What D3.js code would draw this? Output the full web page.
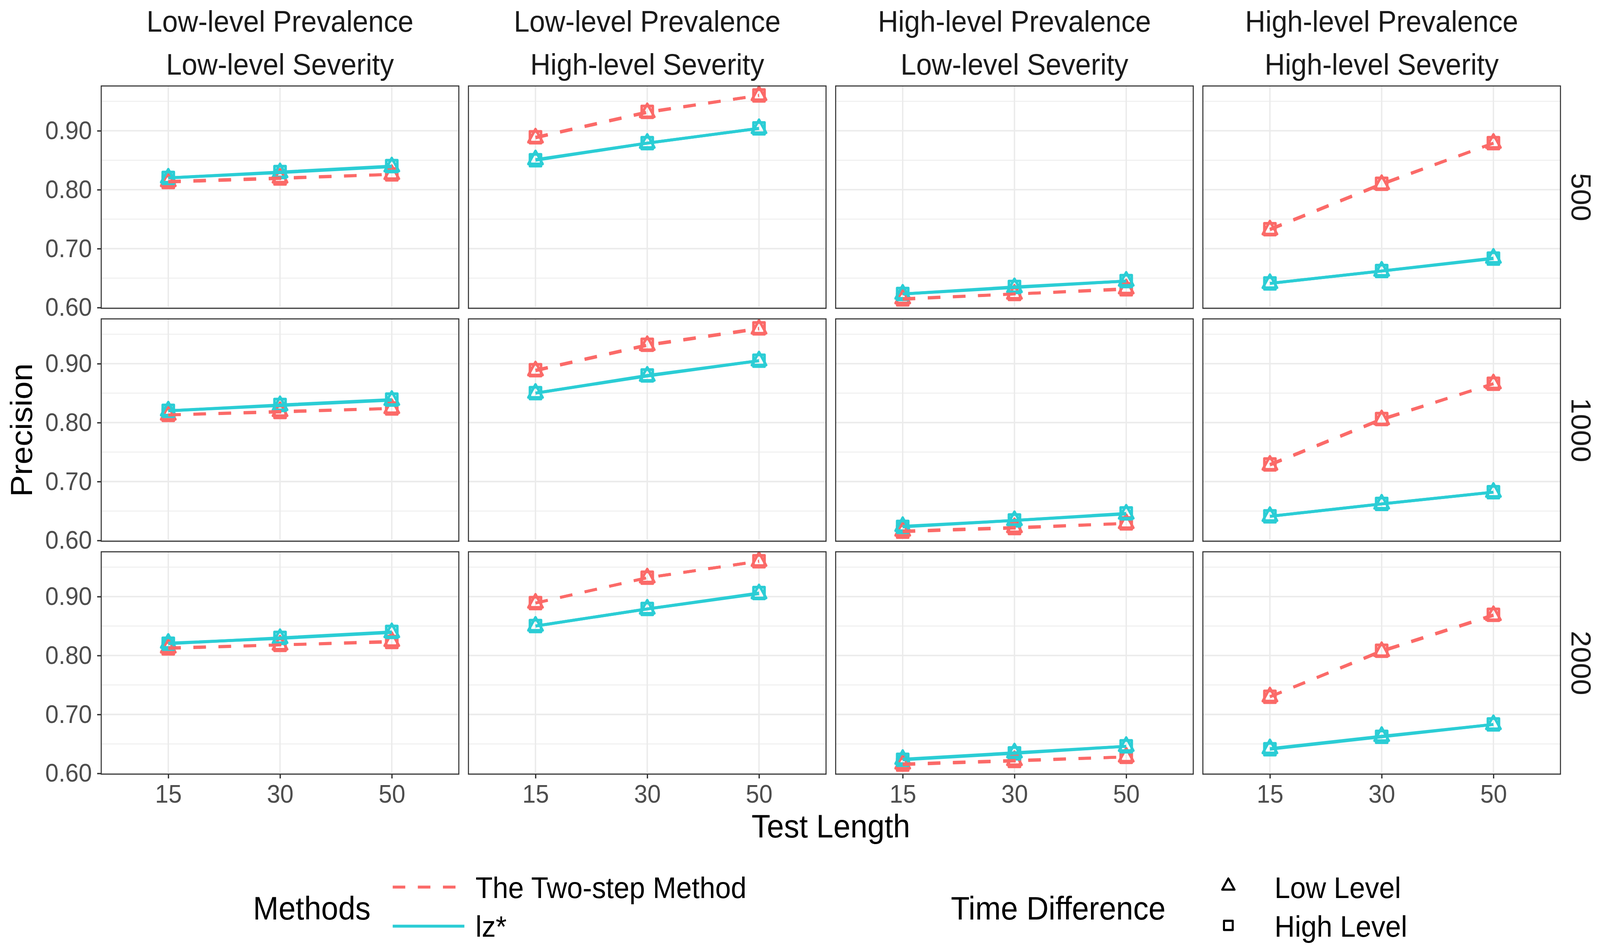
<!DOCTYPE html>
<html>
<head>
<meta charset="utf-8">
<script src="https://cdn.jsdelivr.net/npm/d3@7"></script>
<style>
  html, body { margin: 0; padding: 0; background: #fff; overflow: hidden; }
  svg { display: block; width: 100vw; height: 100vh; }
  text { font-family: "Liberation Sans", Arial, Helvetica, sans-serif; }
</style>
</head>
<body>
<svg id="chart"></svg>
<script>
// facet labels
const conditionTop = ["Low-level Prevalence", "Low-level Prevalence", "High-level Prevalence", "High-level Prevalence"];
const conditionBottom = ["Low-level Severity", "High-level Severity", "Low-level Severity", "High-level Severity"];
const sampleSizes = ["500", "1000", "2000"];
const testLengths = ["15", "30", "50"];
const methods = ["The Two-step Method", "lz*"];
const timeLevels = ["Low Level", "High Level"];
const yTicks = [0.60, 0.70, 0.80, 0.90];
const yMinorTicks = [0.65, 0.75, 0.85, 0.95];

// precision values [sample size row][condition col][test length]
const twoStepLow = [
  [[0.814, 0.820, 0.826], [0.888, 0.931, 0.960], [0.615, 0.623, 0.632], [0.732, 0.809, 0.879]],
  [[0.813, 0.819, 0.824], [0.888, 0.931, 0.959], [0.616, 0.622, 0.629], [0.728, 0.805, 0.866]],
  [[0.813, 0.818, 0.824], [0.889, 0.932, 0.960], [0.616, 0.622, 0.628], [0.730, 0.807, 0.868]]
];
const twoStepHigh = [
  [[0.813, 0.819, 0.826], [0.889, 0.932, 0.960], [0.614, 0.623, 0.631], [0.733, 0.810, 0.879]],
  [[0.813, 0.818, 0.824], [0.889, 0.932, 0.960], [0.615, 0.621, 0.629], [0.729, 0.806, 0.866]],
  [[0.812, 0.818, 0.823], [0.889, 0.932, 0.960], [0.615, 0.621, 0.628], [0.730, 0.808, 0.869]]
];
const lzLow = [
  [[0.820, 0.829, 0.839], [0.851, 0.879, 0.904], [0.623, 0.634, 0.645], [0.641, 0.662, 0.684]],
  [[0.820, 0.829, 0.838], [0.850, 0.879, 0.905], [0.624, 0.634, 0.645], [0.641, 0.662, 0.682]],
  [[0.821, 0.829, 0.839], [0.850, 0.879, 0.905], [0.624, 0.635, 0.646], [0.642, 0.663, 0.683]]
];
const lzHigh = [
  [[0.820, 0.830, 0.840], [0.850, 0.879, 0.904], [0.623, 0.635, 0.645], [0.641, 0.662, 0.683]],
  [[0.820, 0.830, 0.839], [0.850, 0.880, 0.905], [0.623, 0.634, 0.646], [0.641, 0.662, 0.682]],
  [[0.820, 0.830, 0.840], [0.850, 0.879, 0.906], [0.623, 0.634, 0.646], [0.641, 0.662, 0.683]]
];

// drawing is laid out on the reference's 4331x2431 grid and scaled to the window
const width = 4331;
const height = 2431;
const panel = { left: 274, top: 220, w: 968, h: 569, gapX: 26, gapY: 27 };
const colors = ["#FB6A68", "#2BCDD5"];
const dashes = ["34,34", null];
const textDark = "#1A1A1A";
const textGrey = "#4D4D4D";

const svg = d3.select("#chart")
  .attr("viewBox", `0 0 ${width} ${height}`)
  .attr("preserveAspectRatio", "none")
  .style("background", "#fff");

svg.append("rect").attr("width", width).attr("height", height).attr("fill", "#fff");

const x = d3.scalePoint().domain(testLengths).range([0, panel.w]).padding(0.6);
const y = d3.scaleLinear().domain([0.5987, 0.976]).range([panel.h, 0]);

const triangle = d3.symbol().type(d3.symbolTriangle).size(640);
const square = d3.symbol().type(d3.symbolSquare).size(900);
const shapes = [triangle, square];

const line = d3.line()
  .x((d, i) => x(testLengths[i]))
  .y(d => y(d));

const series = [
  { method: 0, time: 0, data: twoStepLow },
  { method: 0, time: 1, data: twoStepHigh },
  { method: 1, time: 0, data: lzLow },
  { method: 1, time: 1, data: lzHigh }
];

sampleSizes.forEach((size, r) => {
  conditionTop.forEach((cond, c) => {
    const px = panel.left + c * (panel.w + panel.gapX);
    const py = panel.top + r * (panel.h + panel.gapY);
    const g = svg.append("g").attr("transform", `translate(${px},${py})`);

    // grid
    g.selectAll(".minor")
      .data(yMinorTicks)
      .enter()
      .append("line")
      .attr("x1", 0).attr("x2", panel.w)
      .attr("y1", d => y(d)).attr("y2", d => y(d))
      .attr("stroke", "#EBEBEB").attr("stroke-width", 2);

    g.selectAll(".major")
      .data(yTicks)
      .enter()
      .append("line")
      .attr("x1", 0).attr("x2", panel.w)
      .attr("y1", d => y(d)).attr("y2", d => y(d))
      .attr("stroke", "#EBEBEB").attr("stroke-width", 3.8);

    g.selectAll(".vmajor")
      .data(testLengths)
      .enter()
      .append("line")
      .attr("x1", d => x(d)).attr("x2", d => x(d))
      .attr("y1", 0).attr("y2", panel.h)
      .attr("stroke", "#EBEBEB").attr("stroke-width", 3.8);

    // points first, lines on top
    series.forEach(s => {
      g.selectAll(null)
        .data(s.data[r][c])
        .enter()
        .append("path")
        .attr("d", shapes[s.time])
        .attr("transform", (d, i) => `translate(${x(testLengths[i])},${y(d)})`)
        .attr("fill", "none")
        .attr("stroke", colors[s.method])
        .attr("stroke-width", 7)
        .attr("stroke-linejoin", "round");
    });

    series.forEach(s => {
      g.append("path")
        .datum(s.data[r][c])
        .attr("d", line)
        .attr("fill", "none")
        .attr("stroke", colors[s.method])
        .attr("stroke-width", 7.5)
        .attr("stroke-dasharray", dashes[s.method]);
    });

    g.append("rect")
      .attr("width", panel.w).attr("height", panel.h)
      .attr("fill", "none")
      .attr("stroke", "#333333")
      .attr("stroke-width", 2.8);

    // left axis only on first column
    if (c === 0) {
      const yAxis = g.append("g")
        .call(d3.axisLeft(y).tickValues(yTicks).tickFormat(d3.format(".2f")).tickSize(11).tickPadding(14));
      yAxis.select(".domain").remove();
      yAxis.selectAll("line").attr("stroke", "#333333").attr("stroke-width", 3.5);
      yAxis.selectAll("text")
        .attr("fill", textGrey)
        .style("font-size", "65px")
        .style("font-family", "Liberation Sans, Arial, sans-serif");
    }

    // bottom axis only on last row
    if (r === sampleSizes.length - 1) {
      const xAxis = g.append("g")
        .attr("transform", `translate(0,${panel.h})`)
        .call(d3.axisBottom(x).tickSize(11).tickPadding(16));
      xAxis.select(".domain").remove();
      xAxis.selectAll("line").attr("stroke", "#333333").attr("stroke-width", 3.5);
      xAxis.selectAll("text")
        .attr("fill", textGrey)
        .attr("dy", "0.71em")
        .style("font-size", "65px")
        .style("font-family", "Liberation Sans, Arial, sans-serif");
    }

    // top strips
    if (r === 0) {
      g.append("text")
        .attr("x", panel.w / 2).attr("y", 81 - panel.top)
        .attr("text-anchor", "middle")
        .attr("fill", textDark)
        .style("font-size", "76px")
        .text(cond);
      g.append("text")
        .attr("x", panel.w / 2).attr("y", 191 - panel.top)
        .attr("text-anchor", "middle")
        .attr("fill", textDark)
        .style("font-size", "76px")
        .text(conditionBottom[c]);
    }

    // right strips
    if (c === conditionTop.length - 1) {
      g.append("text")
        .attr("transform", `translate(${panel.w + 55},${panel.h / 2}) rotate(90)`)
        .attr("text-anchor", "middle")
        .attr("dominant-baseline", "central")
        .attr("fill", textDark)
        .style("font-size", "74px")
        .text(size);
    }
  });
});

// axis titles
const plotRight = panel.left + 4 * panel.w + 3 * panel.gapX;
const plotBottom = panel.top + 3 * panel.h + 2 * panel.gapY;

svg.append("text")
  .attr("x", (panel.left + plotRight) / 2)
  .attr("y", 2143)
  .attr("text-anchor", "middle")
  .attr("fill", "#000")
  .style("font-size", "83px")
  .text("Test Length");

svg.append("text")
  .attr("transform", `translate(87,${(panel.top + plotBottom) / 2}) rotate(-90)`)
  .attr("text-anchor", "middle")
  .attr("fill", "#000")
  .style("font-size", "83px")
  .text("Precision");

// legend: methods
const legend = svg.append("g");
legend.append("text")
  .attr("x", 685).attr("y", 2353)
  .attr("fill", "#000")
  .style("font-size", "83px")
  .text("Methods");

const keyY = [2270, 2370];
const labelY = [2298, 2397];

methods.forEach((m, i) => {
  legend.append("line")
    .attr("x1", 1063).attr("x2", 1257)
    .attr("y1", keyY[i]).attr("y2", keyY[i])
    .attr("stroke", colors[i])
    .attr("stroke-width", 7.5)
    .attr("stroke-dasharray", dashes[i]);
  legend.append("text")
    .attr("x", 1287).attr("y", labelY[i])
    .attr("fill", "#000")
    .style("font-size", "76px")
    .text(m);
});

// legend: time difference
legend.append("text")
  .attr("x", 2574).attr("y", 2353)
  .attr("fill", "#000")
  .style("font-size", "83px")
  .text("Time Difference");

timeLevels.forEach((t, i) => {
  legend.append("path")
    .attr("d", shapes[i].size(i === 0 ? 480 : 560)())
    .attr("transform", `translate(3325,${keyY[i] - (i === 0 ? 3 : 2)})`)
    .attr("fill", "none")
    .attr("stroke", "#000")
    .attr("stroke-width", 5.5)
    .attr("stroke-linejoin", "round");
  legend.append("text")
    .attr("x", 3450).attr("y", labelY[i])
    .attr("fill", "#000")
    .style("font-size", "76px")
    .text(t);
});
</script>
</body>
</html>
